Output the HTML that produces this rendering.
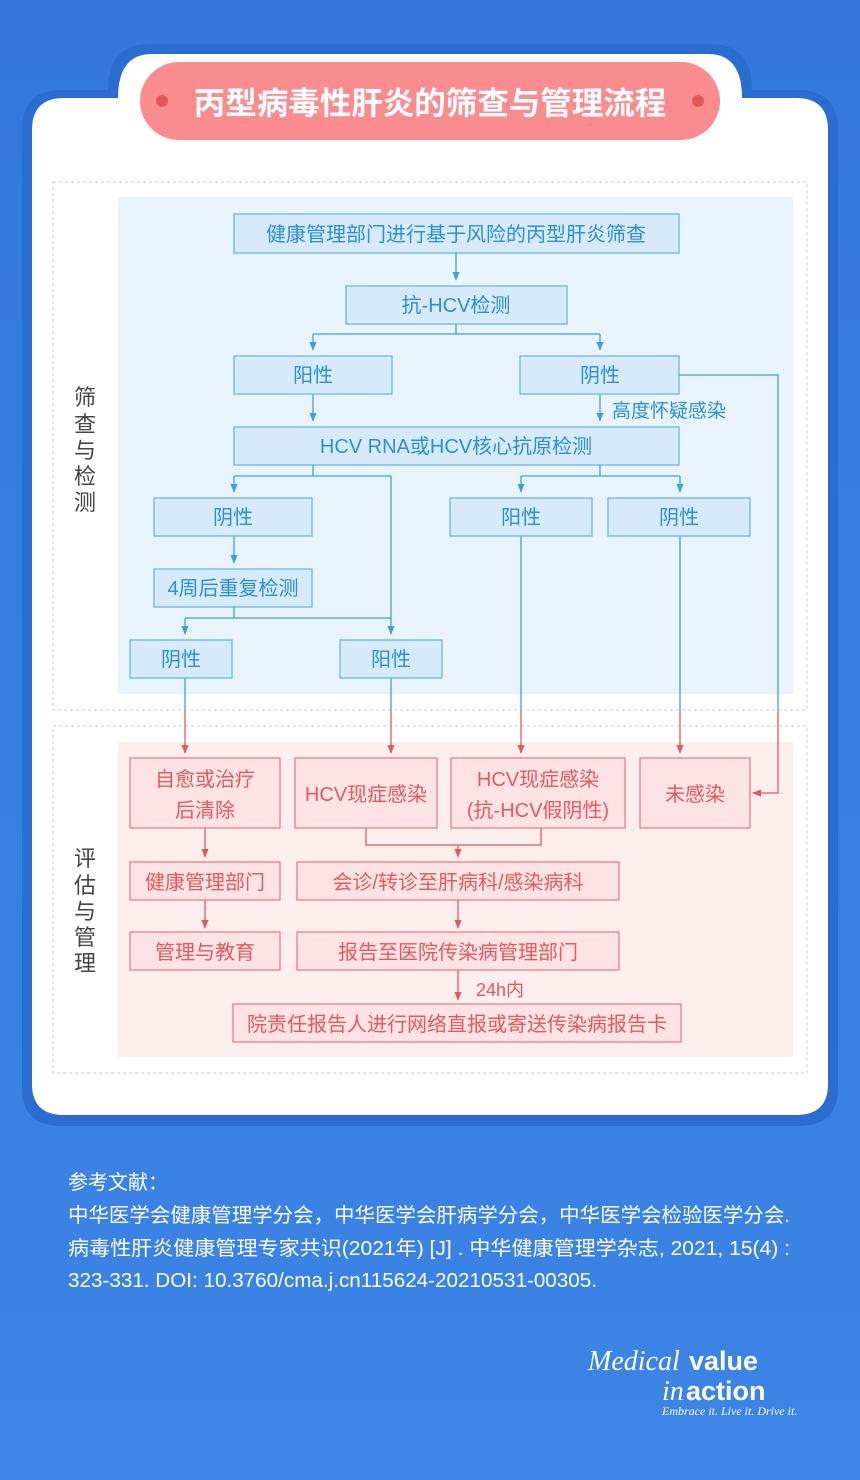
<!DOCTYPE html>
<html><head><meta charset="utf-8"><style>
html,body{margin:0;padding:0;width:860px;height:1480px;overflow:hidden;background:#3b7fe2;}
svg{display:block}
text{font-family:"Liberation Sans","Noto Sans CJK SC",sans-serif;}
text.serif{font-family:"Liberation Serif",serif;font-style:italic;}
</style></head><body>
<svg width="860" height="1480" viewBox="0 0 860 1480" xmlns="http://www.w3.org/2000/svg">
<defs>
<linearGradient id="bg" x1="0" y1="0" x2="0" y2="1"><stop offset="0" stop-color="#3478de"/><stop offset="1" stop-color="#3c84e6"/></linearGradient>
<marker id="ab" viewBox="0 0 10 10" refX="9" refY="5" markerWidth="7" markerHeight="7" orient="auto"><path d="M0,1 L10,5 L0,9 z" fill="#3aa0e6"/></marker>
<marker id="ar" viewBox="0 0 10 10" refX="9" refY="5" markerWidth="7" markerHeight="7" orient="auto"><path d="M0,1 L10,5 L0,9 z" fill="#e0575c"/></marker>
</defs>
<rect width="860" height="1480" fill="url(#bg)"/>
<path d="M22,130 Q22,90 62,90 L108,90 Q108,44 150,44 L710,44 Q752,44 752,90 L798,90 Q838,90 838,130 L838,1088 Q838,1126 798,1126 L62,1126 Q22,1126 22,1088 Z" fill="#2a6ccf"/>
<path d="M32,130 Q32,98 64,98 L118,98 Q118,54 152,54 L708,54 Q742,54 742,98 L796,98 Q828,98 828,130 L828,1084 Q828,1115 796,1115 L64,1115 Q32,1115 32,1084 Z" fill="#ffffff"/>
<rect x="140" y="62" width="580" height="78" rx="39" fill="#fa8c90"/>
<circle cx="162" cy="101" r="6" fill="#e0575c"/><circle cx="698" cy="101" r="6" fill="#e0575c"/>
<text x="430" y="114" text-anchor="middle" font-size="31.5" font-weight="bold" fill="#fff">丙型病毒性肝炎的筛查与管理流程</text>

<rect x="53" y="182" width="754" height="528" fill="none" stroke="#c8c8c8" stroke-dasharray="3,3"/>
<rect x="118" y="197" width="675" height="497" fill="#e9f3fc"/>
<rect x="53" y="726" width="754" height="347" fill="none" stroke="#c8c8c8" stroke-dasharray="3,3"/>
<rect x="118" y="742" width="675" height="315" fill="#fdeeee"/>

<g font-size="22" fill="#444" text-anchor="middle">
<text x="85" y="405">筛</text><text x="85" y="432">查</text><text x="85" y="458">与</text><text x="85" y="484">检</text><text x="85" y="510">测</text>
<text x="85" y="866">评</text><text x="85" y="893">估</text><text x="85" y="919">与</text><text x="85" y="945">管</text><text x="85" y="971">理</text>
</g>

<g stroke="#3aa0e6" stroke-width="1.3" fill="none">
<path d="M456,253 V280" marker-end="url(#ab)"/>
<path d="M456,324 V334 M313,334 H600"/>
<path d="M313,334 V350" marker-end="url(#ab)"/><path d="M600,334 V350" marker-end="url(#ab)"/>
<path d="M313,394 V421" marker-end="url(#ab)"/><path d="M600,394 V421" marker-end="url(#ab)"/>
<path d="M679,375 H778 V712"/>
<path d="M313,465 V476 M234,476 H391"/>
<path d="M234,476 V492" marker-end="url(#ab)"/>
<path d="M391,476 V634" marker-end="url(#ab)"/>
<path d="M600,465 V476 M521,476 H680"/>
<path d="M521,476 V492" marker-end="url(#ab)"/><path d="M680,476 V492" marker-end="url(#ab)"/>
<path d="M234,536 V563" marker-end="url(#ab)"/>
<path d="M234,607 V618 M185,618 H391"/>
<path d="M185,618 V634" marker-end="url(#ab)"/>
<path d="M185,678 V712 M391,678 V712 M521,536 V712 M680,536 V712"/>
</g>
<text x="612" y="417" font-size="19" fill="#2a8fd6">高度怀疑感染</text>

<g stroke="#e0575c" stroke-width="1.3" fill="none">
<path d="M185,712 V753" marker-end="url(#ar)"/><path d="M391,712 V753" marker-end="url(#ar)"/>
<path d="M521,712 V753" marker-end="url(#ar)"/><path d="M680,712 V753" marker-end="url(#ar)"/>
<path d="M778,712 V793 H753" marker-end="url(#ar)"/>
<path d="M366,828 V845 H541 V828"/>
<path d="M458,845 V857" marker-end="url(#ar)"/>
<path d="M205,828 V857" marker-end="url(#ar)"/><path d="M205,900 V928" marker-end="url(#ar)"/>
<path d="M458,900 V928" marker-end="url(#ar)"/><path d="M458,970 V1000" marker-end="url(#ar)"/>
</g>
<text x="476" y="996" font-size="18" fill="#e0575c">24h内</text>

<g fill="#d6eaf9" stroke="#5fb3e6" stroke-width="1.2">
<rect x="234" y="214" width="445" height="39"/>
<rect x="346" y="286" width="221" height="38"/>
<rect x="234" y="356" width="158" height="38"/><rect x="520" y="356" width="159" height="38"/>
<rect x="234" y="427" width="445" height="38"/>
<rect x="154" y="498" width="158" height="38"/><rect x="450" y="498" width="142" height="38"/><rect x="608" y="498" width="142" height="38"/>
<rect x="154" y="569" width="158" height="38"/>
<rect x="130" y="640" width="102" height="38"/><rect x="340" y="640" width="102" height="38"/>
</g>
<g font-size="20" fill="#2a8fd6" text-anchor="middle">
<text x="456" y="241">健康管理部门进行基于风险的丙型肝炎筛查</text>
<text x="456" y="312">抗-HCV检测</text>
<text x="313" y="382">阳性</text><text x="600" y="382">阴性</text>
<text x="456" y="453">HCV RNA或HCV核心抗原检测</text>
<text x="233" y="524">阴性</text><text x="521" y="524">阳性</text><text x="679" y="524">阴性</text>
<text x="233" y="595">4周后重复检测</text>
<text x="181" y="666">阴性</text><text x="391" y="666">阳性</text>
</g>

<g fill="#fde3e3" stroke="#e8777a" stroke-width="1.2">
<rect x="130" y="758" width="150" height="70"/><rect x="295" y="758" width="142" height="70"/>
<rect x="451" y="758" width="174" height="70"/><rect x="640" y="758" width="110" height="70"/>
<rect x="130" y="862" width="150" height="38"/><rect x="297" y="862" width="322" height="38"/>
<rect x="130" y="932" width="150" height="38"/><rect x="297" y="932" width="322" height="38"/>
<rect x="233" y="1004" width="448" height="38"/>
</g>
<g font-size="20" fill="#e05a5e" text-anchor="middle">
<text x="205" y="786">自愈或治疗</text><text x="205" y="817">后清除</text>
<text x="366" y="801">HCV现症感染</text>
<text x="538" y="786">HCV现症感染</text><text x="538" y="817">(抗-HCV假阴性)</text>
<text x="695" y="801">未感染</text>
<text x="205" y="889">健康管理部门</text><text x="458" y="889">会诊/转诊至肝病科/感染病科</text>
<text x="205" y="959">管理与教育</text><text x="458" y="959">报告至医院传染病管理部门</text>
<text x="457" y="1031">院责任报告人进行网络直报或寄送传染病报告卡</text>
</g>

<g font-size="20" fill="#fff">
<text x="68" y="1189">参考文献：</text>
<text x="68" y="1222" textLength="722" lengthAdjust="spacingAndGlyphs">中华医学会健康管理学分会，中华医学会肝病学分会，中华医学会检验医学分会.</text>
<text x="68" y="1255" textLength="722" lengthAdjust="spacingAndGlyphs">病毒性肝炎健康管理专家共识(2021年) [J] . 中华健康管理学杂志, 2021, 15(4) :</text>
<text x="68" y="1287" textLength="529" lengthAdjust="spacingAndGlyphs">323-331. DOI: 10.3760/cma.j.cn115624-20210531-00305.</text>
</g>
<text class="serif" x="588" y="1370" font-size="28" fill="#fff">Medical</text>
<text x="689" y="1370" font-size="27" font-weight="bold" fill="#fff">value</text>
<text class="serif" x="662" y="1400" font-size="28" fill="#fff">in</text>
<text x="686" y="1400" font-size="27" font-weight="bold" fill="#fff">action</text>
<text class="serif" x="662" y="1415" font-size="12" fill="#fff">Embrace it. Live it. Drive it.</text>
</svg>
</body></html>
